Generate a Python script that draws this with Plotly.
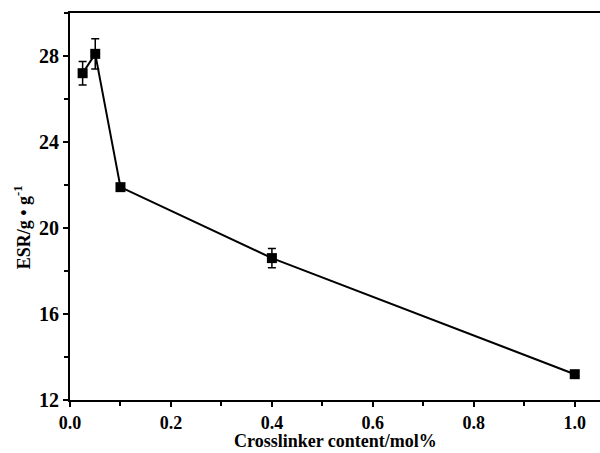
import plotly.graph_objects as go

x_content = [0.025, 0.05, 0.1, 0.4, 1.0]
esr = [27.2, 28.1, 21.9, 18.6, 13.2]
esr_err = [0.55, 0.7, 0.15, 0.45, 0.15]

FAM = "Liberation Serif"
tickfont = dict(family=FAM, size=20, color="black", weight="bold")

fig = go.Figure()
fig.add_trace(go.Scatter(
    x=x_content, y=esr, mode="lines+markers",
    line=dict(color="black", width=2),
    marker=dict(symbol="square", size=10, color="black"),
    error_y=dict(type="data", array=esr_err, visible=True, color="black", thickness=1.5, width=4),
    showlegend=False,
))

fig.update_layout(
    width=600, height=453,
    margin=dict(l=70, r=0, t=13, b=53),
    paper_bgcolor="white", plot_bgcolor="white",
    font=dict(family=FAM, size=19, color="black"),
    xaxis=dict(
        range=[0, 1.05], tickvals=[0, 0.2, 0.4, 0.6, 0.8, 1.0],
        ticktext=["0.0", "0.2", "0.4", "0.6", "0.8", "1.0"],
        ticks="outside", ticklen=5, tickwidth=2, tickcolor="black",
        minor=dict(dtick=0.1, ticks="outside", ticklen=4, tickwidth=2, tickcolor="black"),
        showline=True, linewidth=2, linecolor="black", mirror=True,
        showgrid=False, zeroline=False,
        tickfont=dict(family=FAM, size=18, color="black", weight="bold"),
        ticklabelstandoff=0,
    ),
    yaxis=dict(
        range=[12, 30], tickvals=[12, 16, 20, 24, 28],
        ticks="outside", ticklen=5, tickwidth=2, tickcolor="black",
        minor=dict(dtick=2, ticks="outside", ticklen=4, tickwidth=2, tickcolor="black"),
        showline=True, linewidth=2, linecolor="black",
        showgrid=False, zeroline=False,
        tickfont=tickfont,
    ),
    annotations=[
        dict(
            text="ESR/g • g<sup>-1</sup>", textangle=-90,
            xref="paper", yref="paper", x=-0.09, y=0.447,
            xanchor="center", yanchor="middle", showarrow=False,
            font=dict(family=FAM, size=18, color="black", weight="bold"),
        ),
        dict(
            text="Crosslinker content/mol%",
            xref="paper", yref="paper", x=0.5, y=-0.137,
            xanchor="center", yanchor="bottom", showarrow=False,
            font=dict(family=FAM, size=18, color="black", weight="bold"),
        ),
    ],
)

fig.write_html("out.html", config={"displayModeBar": False},
               post_script="document.body.style.margin='0px';")
